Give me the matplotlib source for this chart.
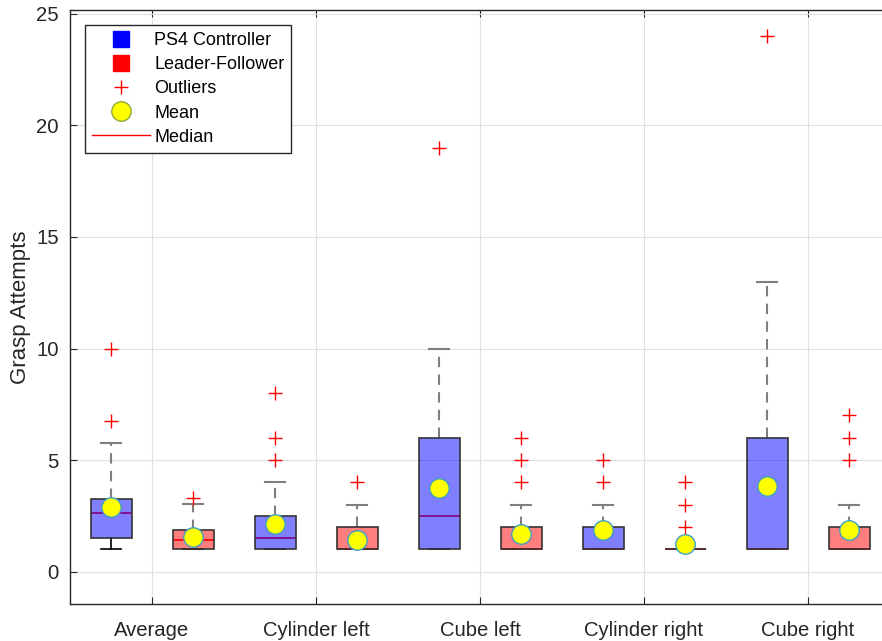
import numpy as np
import matplotlib
matplotlib.use("Agg")
import matplotlib.pyplot as plt
from matplotlib.lines import Line2D

plt.rcParams['font.family'] = ['Liberation Sans', 'DejaVu Sans']

# data
groups = ["Average", "Cylinder left", "Cube left", "Cylinder right", "Cube right"]

ps4_q1 = [1.5, 1, 1, 1, 1]
ps4_med = [2.65, 1.5, 2.5, 1, 1]
ps4_q3 = [3.25, 2.5, 6, 2, 6]
ps4_lo = [1, 1, 1, 1, 1]
ps4_hi = [5.75, 4, 10, 3, 13]
ps4_mean = [2.88, 2.12, 3.73, 1.85, 3.83]
ps4_out = [[6.75, 10], [5, 6, 8], [19], [4, 5], [24]]

lf_q1 = [1, 1, 1, 1, 1]
lf_med = [1.4, 1, 1, 1, 1]
lf_q3 = [1.88, 2, 2, 1, 2]
lf_lo = [1, 1, 1, 1, 1]
lf_hi = [3.05, 3, 3, 1, 3]
lf_mean = [1.57, 1.43, 1.7, 1.25, 1.86]
lf_out = [[3.3], [4], [4, 5, 6], [2, 3, 4], [5, 6, 7]]


def make_stats(q1, med, q3, lo, hi, mean, out):
    stats = []
    for i in range(len(q1)):
        stats.append(dict(q1=q1[i], med=med[i], q3=q3[i], whislo=lo[i],
                          whishi=hi[i], mean=mean[i], fliers=out[i]))
    return stats


ps4_stats = make_stats(ps4_q1, ps4_med, ps4_q3, ps4_lo, ps4_hi, ps4_mean, ps4_out)
lf_stats = make_stats(lf_q1, lf_med, lf_q3, lf_lo, lf_hi, lf_mean, lf_out)

n = len(groups)
ps4_pos = np.arange(n) * 2 + 1
lf_pos = np.arange(n) * 2 + 2

fig = plt.figure(figsize=(8.82, 6.41), dpi=100)
ax = fig.add_axes([70 / 882, 1 - 604 / 641, 820 / 882, 594 / 641])

edge = "#333333"
mean_edge = "#3d9ec6"


def draw(stats, pos, face):
    res = ax.bxp(stats, positions=pos, widths=0.5, patch_artist=True,
                 showmeans=True, manage_ticks=False,
                 boxprops=dict(facecolor=face, edgecolor=edge, linewidth=1.2, zorder=3),
                 medianprops=dict(color="red", linewidth=1.2, zorder=2.5),
                 meanprops=dict(marker="o", markerfacecolor="#ffff00",
                                markeredgecolor=mean_edge, markersize=14,
                                markeredgewidth=1, zorder=5),
                 flierprops=dict(marker="+", markeredgecolor="red",
                                 markersize=10, markeredgewidth=1, linestyle="none"),
                 whiskerprops=dict(color="black", linewidth=1.2),
                 capprops=dict(color="black", linewidth=1.2))
    # lower whisker/cap solid black, upper whisker/cap dashed gray
    for i in range(len(stats)):
        up_w = res["whiskers"][2 * i + 1]
        up_w.set_color("#7f7f7f")
        up_w.set_linewidth(1.5)
        up_w.set_linestyle((0, (5, 3.5)))
        res["caps"][2 * i + 1].set_color("#7f7f7f")
        res["caps"][2 * i + 1].set_linewidth(1.5)
        for art in (up_w, res["caps"][2 * i + 1], res["whiskers"][2 * i], res["caps"][2 * i]):
            art.set_zorder(2)
    return res


draw(ps4_stats, ps4_pos, (0, 0, 1, 0.5))
draw(lf_stats, lf_pos, (1, 0, 0, 0.5))

ax.set_xlim(0.5, 10.5)
ax.set_ylim(-1.45, 25.17)
ax.set_xticks((ps4_pos + lf_pos) / 2)
ax.set_xticklabels(groups)
ax.set_yticks([0, 5, 10, 15, 20, 25])
ax.set_ylabel("Grasp Attempts", fontsize=16, color="#262626", labelpad=4)

ax.grid(True, color="#e0e0e0", linewidth=0.8)
ax.set_axisbelow(True)
ax.tick_params(direction="in", length=5, colors="#262626", labelsize=14.6,
               top=True, right=True)
ax.tick_params(axis="x", pad=12)
ax.tick_params(axis="y", pad=8)
for sp in ax.spines.values():
    sp.set_color("#262626")
    sp.set_linewidth(1.0)

handles = [
    Line2D([], [], marker="s", color="#0000ff", linestyle="none", markersize=11),
    Line2D([], [], marker="s", color="#ff0000", linestyle="none", markersize=11),
    Line2D([], [], marker="+", color="red", linestyle="none", markersize=10),
    Line2D([], [], marker="o", markerfacecolor="#ffff00", markeredgecolor="#8fa838",
           linestyle="none", markersize=14),
    Line2D([], [], color="red", linewidth=1.0),
]
labels = ["PS4 Controller", "Leader-Follower", "Outliers", "Mean", "Median"]
leg = ax.legend(handles, labels, loc="upper left", bbox_to_anchor=(15 / 820, 1 - 15 / 594),
                borderaxespad=0, fontsize=13, handlelength=3.2, handletextpad=0.25,
                labelspacing=0.4, fancybox=False, framealpha=1, borderpad=0.38)
leg.get_frame().set_edgecolor("#262626")
leg.get_frame().set_linewidth(1.0)

fig.savefig("out.png", dpi=100)
